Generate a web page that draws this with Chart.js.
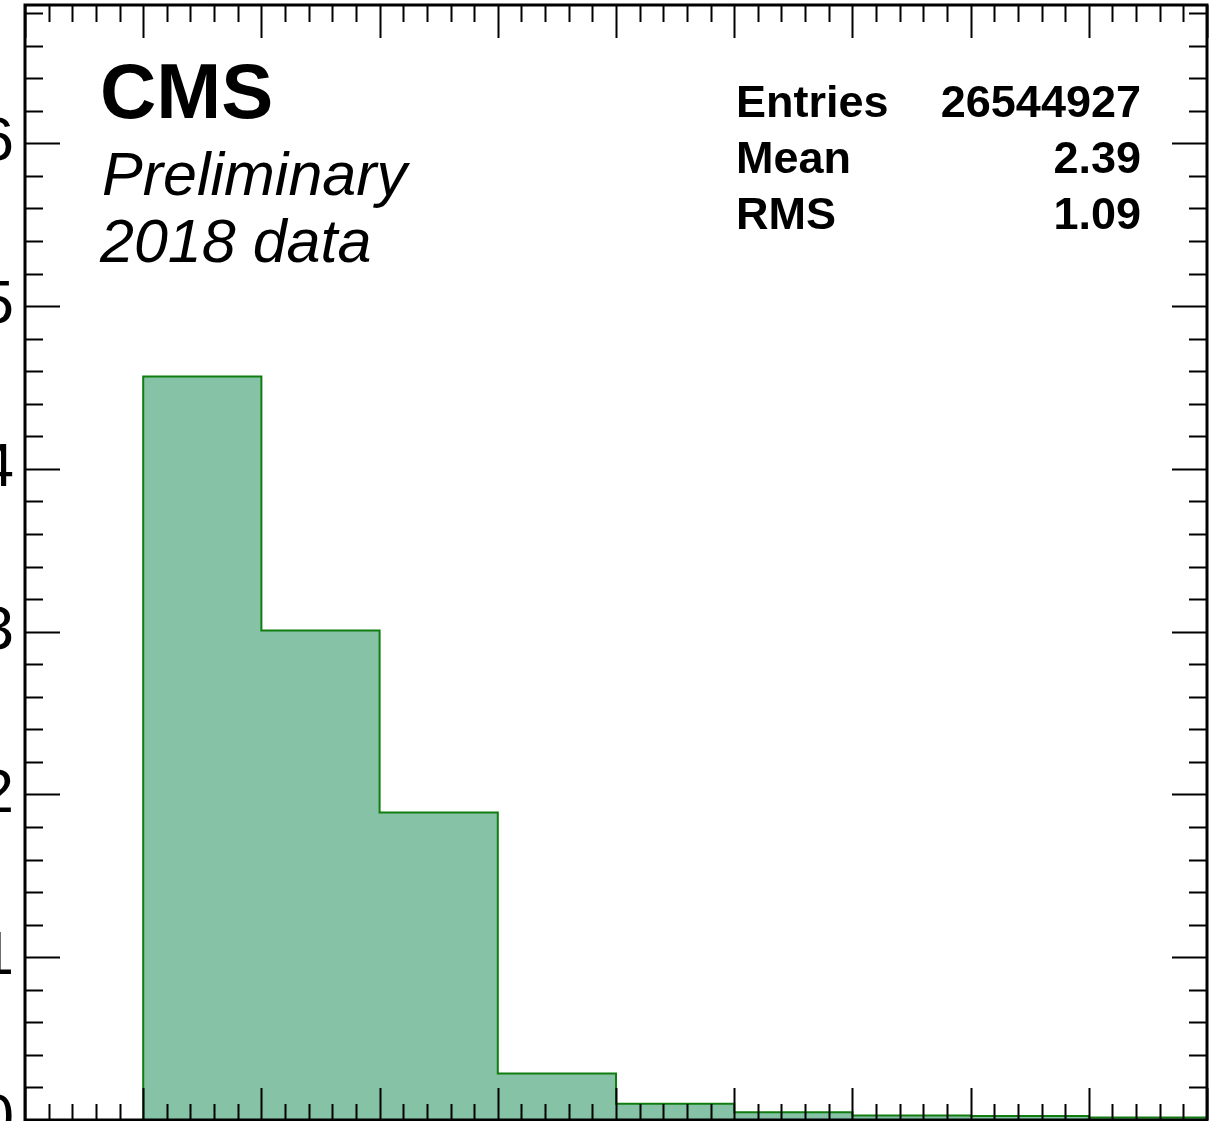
<!DOCTYPE html>
<html>
<head>
<meta charset="utf-8">
<script src="https://cdn.jsdelivr.net/npm/chart.js@4/dist/chart.umd.min.js"></script>
<style>
  html, body { margin: 0; padding: 0; background: #fff; overflow: hidden; }
  #wrap { position: absolute; left: -120px; top: 0; width: 1339px; height: 1260px; }
</style>
</head>
<body>
<div id="wrap"><canvas id="c"></canvas></div>
<script>
// histogram bins (x edges) and contents
const binEdges = [1, 2, 3, 4, 5, 6, 7, 8, 9, 10];
const binCounts = [4.567, 3.007, 1.889, 0.285, 0.100, 0.047, 0.027, 0.024, 0.015];

const xRange = [0, 10];
const yRange = [0, 6.85];

const labelLines = ['CMS', 'Preliminary', '2018 data'];
const statNames = ['Entries', 'Mean', 'RMS'];
const statValues = ['26544927', '2.39', '1.09'];

const FONT = '"Liberation Sans", Arial, sans-serif';
const OFF = 120; // canvas is pushed left so the y labels are clipped like the original

// step outline: up at first edge, across each bin, down at the last edge
const pts = [{ x: binEdges[0], y: 0 }];
binCounts.forEach((c, i) => pts.push({ x: binEdges[i], y: c }));
pts.push({ x: binEdges[binEdges.length - 1], y: binCounts[binCounts.length - 1] });
pts.push({ x: binEdges[binEdges.length - 1], y: 0 });

const rootFrame = {
  id: 'rootFrame',
  afterDraw(chart) {
    const { ctx, chartArea: a, scales } = chart;
    const xs = scales.x, ys = scales.y;
    ctx.save();
    ctx.strokeStyle = '#000';
    ctx.lineWidth = 2;
    ctx.beginPath();
    // x ticks, bottom and top, pointing in
    for (let i = 0; i <= 50; i++) {
      const v = xRange[0] + i * 0.2;
      const px = Math.round(xs.getPixelForValue(v)) + 0.5;
      const len = i % 5 === 0 ? 32 : 16;
      ctx.moveTo(px, a.bottom); ctx.lineTo(px, a.bottom - len);
      ctx.moveTo(px, a.top); ctx.lineTo(px, a.top + len + 1);
    }
    // y ticks, left and right
    for (let i = 0; i * 0.2 <= yRange[1]; i++) {
      const v = i * 0.2;
      const py = Math.round(ys.getPixelForValue(v)) + 0.5;
      const len = i % 5 === 0 ? 35 : 18;
      ctx.moveTo(a.left, py); ctx.lineTo(a.left + len, py);
      ctx.moveTo(a.right, py); ctx.lineTo(a.right - len, py);
    }
    ctx.stroke();
    ctx.lineWidth = 3;
    ctx.strokeRect(a.left, a.top, a.right - a.left, a.bottom - a.top);

    ctx.fillStyle = '#000';
    ctx.textBaseline = 'alphabetic';
    ctx.textAlign = 'left';
    ctx.font = 'bold 78px ' + FONT;
    ctx.fillText(labelLines[0], 100 + OFF, 118);
    ctx.font = 'italic 61px ' + FONT;
    ctx.fillText(labelLines[1], 102 + OFF, 195);
    ctx.fillText(labelLines[2], 100 + OFF, 262);

    ctx.font = 'bold 45px ' + FONT;
    const base = [117, 173, 229];
    statNames.forEach((n, i) => {
      ctx.textAlign = 'left';
      ctx.fillText(n, 736 + OFF, base[i]);
      ctx.textAlign = 'right';
      ctx.fillText(statValues[i], 1141 + OFF, base[i]);
    });
    ctx.restore();
  }
};

new Chart(document.getElementById('c'), {
  type: 'line',
  data: {
    datasets: [{
      data: pts,
      stepped: true,
      borderColor: '#107d10',
      borderWidth: 2,
      backgroundColor: '#86c2a6',
      fill: 'origin',
      pointRadius: 0,
      tension: 0
    }]
  },
  options: {
    responsive: true,
    maintainAspectRatio: false,
    animation: false,
    layout: { padding: { top: 5, right: 12, left: 0, bottom: 0 } },
    plugins: { legend: { display: false }, tooltip: { enabled: false } },
    scales: {
      x: {
        type: 'linear',
        min: xRange[0], max: xRange[1],
        grid: { display: false, drawTicks: false },
        border: { display: false },
        ticks: { stepSize: 1, padding: 12, color: '#000', font: { family: FONT, size: 62 } },
        afterFit(s) { s.height = 1260 - 1120; s.paddingLeft = 0; s.paddingRight = 0; }
      },
      y: {
        type: 'linear',
        min: yRange[0], max: yRange[1],
        grid: { display: false, drawTicks: false },
        border: { display: false },
        ticks: {
          stepSize: 1, includeBounds: false, padding: 11, color: '#000',
          font: { family: FONT, size: 62 },
          callback: v => Number.isInteger(v) ? String(v) : ''
        },
        afterFit(s) { s.width = 145; s.paddingTop = 0; s.paddingBottom = 0; }
      }
    }
  },
  plugins: [rootFrame]
});
</script>
</body>
</html>
